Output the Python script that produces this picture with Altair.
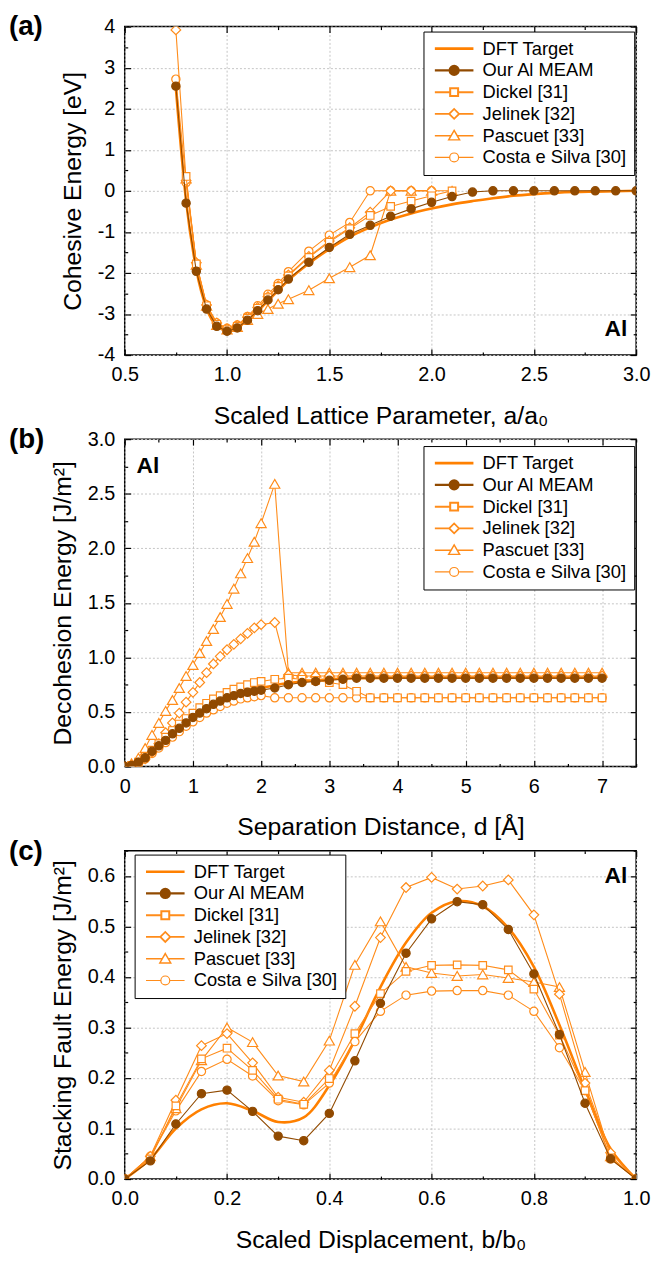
import altair as alt
import pandas as pd

FONT = "Liberation Sans, Arial, Helvetica, sans-serif"
DFT_C = "#FF8000"
ORANGE = "#FF8C1A"
BROWN = "#914A00"

NAMES = ["DFT Target", "Our Al MEAM", "Dickel [31]", "Jelinek [32]", "Pascuet [33]", "Costa e Silva [30]"]

# ---------------- Panel (a): cohesive energy ----------------
a_x = [0.75, 0.8, 0.85, 0.9, 0.95, 1.0, 1.05, 1.1, 1.15, 1.2, 1.25, 1.3, 1.4, 1.5, 1.6, 1.7, 1.8, 1.9, 2.0,
       2.1, 2.2, 2.3, 2.4, 2.5, 2.6, 2.7, 2.8, 2.9, 3.0]
a_dft = [2.50, -0.25, -1.92, -2.86, -3.29, -3.40, -3.33, -3.15, -2.93, -2.68, -2.43, -2.18, -1.77, -1.42, -1.12,
         -0.89, -0.70, -0.55, -0.43, -0.33, -0.25, -0.18, -0.12, -0.08, -0.05, -0.03, -0.02, -0.01, 0.00]
a_meam = [2.55, -0.30, -1.96, -2.88, -3.30, -3.42, -3.34, -3.15, -2.92, -2.66, -2.41, -2.15, -1.74, -1.38, -1.06,
          -0.84, -0.62, -0.44, -0.28, -0.14, -0.03, 0.0, 0.0, 0.0, 0.0, 0.0, 0.0, 0.0, 0.0]
a_dickel_x = [0.8, 0.85, 0.9, 0.95, 1.0, 1.05, 1.1, 1.15, 1.2, 1.25, 1.3, 1.4, 1.5, 1.6, 1.7, 1.8, 1.9, 2.0, 2.1]
a_dickel = [0.35, -1.78, -2.80, -3.25, -3.38, -3.30, -3.10, -2.86, -2.60, -2.33, -2.07, -1.62, -1.25, -0.92, -0.60,
            -0.38, -0.25, -0.12, 0.0]
a_jelinek_x = [0.75, 0.8, 0.85, 0.9, 0.95, 1.0, 1.05, 1.1, 1.15, 1.2, 1.25, 1.3, 1.4, 1.5, 1.6, 1.7, 1.8, 1.9, 2.0]
a_jelinek = [3.92, 0.25, -1.75, -2.78, -3.22, -3.36, -3.28, -3.08, -2.84, -2.58, -2.31, -2.05, -1.60, -1.22, -0.90,
             -0.52, 0.0, 0.0, 0.0]
a_pascuet_x = [0.8, 0.85, 0.9, 0.95, 1.0, 1.05, 1.1, 1.15, 1.2, 1.25, 1.3, 1.4, 1.5, 1.6, 1.7, 1.8, 1.9, 2.0, 2.1]
a_pascuet = [0.30, -1.80, -2.80, -3.27, -3.38, -3.32, -3.15, -3.00, -2.88, -2.75, -2.64, -2.42, -2.13, -1.86, -1.57,
             0.0, 0.0, 0.0, 0.0]
a_costa_x = [0.75, 0.8, 0.85, 0.9, 0.95, 1.0, 1.05, 1.1, 1.15, 1.2, 1.25, 1.3, 1.4, 1.5, 1.6, 1.7, 1.8, 1.9, 2.0]
a_costa = [2.72, 0.20, -1.78, -2.78, -3.22, -3.35, -3.27, -3.06, -2.80, -2.52, -2.26, -1.97, -1.47, -1.08, -0.77,
           0.0, 0.0, 0.0, 0.0]

# ---------------- Panel (b): decohesion energy ----------------
b_x = [0.0, 0.1, 0.2, 0.3, 0.4, 0.5, 0.6, 0.7, 0.8, 0.9, 1.0, 1.1, 1.2, 1.3, 1.4, 1.5, 1.6, 1.7, 1.8, 1.9, 2.0,
       2.2, 2.4, 2.6, 2.8, 3.0, 3.2, 3.4, 3.6, 3.8, 4.0, 4.2, 4.4, 4.6, 4.8, 5.0, 5.2, 5.4, 5.6, 5.8, 6.0,
       6.2, 6.4, 6.6, 6.8, 7.0]
b_dft_x = [0.0, 0.2, 0.4, 0.6, 0.8, 1.0, 1.2, 1.4, 1.6, 1.8, 2.0, 2.2, 2.4, 2.6, 2.8, 3.0, 3.5, 4.0, 5.0, 6.0, 7.0]
b_dft = [0.0, 0.04, 0.13, 0.24, 0.34, 0.43, 0.51, 0.58, 0.64, 0.68, 0.72, 0.745, 0.765, 0.78, 0.79, 0.80, 0.81,
         0.815, 0.815, 0.815, 0.815]
b_meam = [0.0, 0.01, 0.04, 0.08, 0.14, 0.19, 0.24, 0.30, 0.35, 0.40, 0.45, 0.49, 0.53, 0.57, 0.60, 0.63, 0.65, 0.67,
          0.68, 0.69, 0.70,
          0.72, 0.75, 0.77, 0.78, 0.79, 0.80, 0.81, 0.81, 0.81, 0.81, 0.81, 0.81, 0.81, 0.81, 0.81, 0.81, 0.81,
          0.81, 0.81, 0.81, 0.81, 0.81, 0.81, 0.81, 0.81]
b_dickel = [0.0, 0.01, 0.04, 0.09, 0.15, 0.21, 0.27, 0.33, 0.39, 0.44, 0.49, 0.54, 0.58, 0.62, 0.65, 0.68, 0.71,
            0.73, 0.75, 0.77, 0.78,
            0.80, 0.81, 0.80, 0.79, 0.77, 0.75, 0.69, 0.63, 0.63, 0.63, 0.63, 0.63, 0.63, 0.63, 0.63, 0.63, 0.63,
            0.63, 0.63, 0.63, 0.63, 0.63, 0.63, 0.63, 0.63]
b_jelinek = [0.0, 0.01, 0.03, 0.07, 0.13, 0.21, 0.31, 0.40, 0.49, 0.59, 0.68, 0.77, 0.86, 0.94, 1.01, 1.07, 1.12,
             1.17, 1.22, 1.27, 1.30,
             1.32, 0.84, 0.83, 0.83, 0.83, 0.83, 0.83, 0.83, 0.83, 0.83, 0.83, 0.83, 0.83, 0.83, 0.83, 0.83, 0.83,
             0.83, 0.83, 0.83, 0.83, 0.83, 0.83, 0.83, 0.83]
b_pascuet = [0.0, 0.03, 0.08, 0.17, 0.29, 0.40, 0.51, 0.61, 0.72, 0.83, 0.93, 1.04, 1.15, 1.26, 1.37, 1.49, 1.63,
             1.77, 1.91, 2.06, 2.23,
             2.59, 0.86, 0.86, 0.86, 0.86, 0.86, 0.86, 0.86, 0.86, 0.86, 0.86, 0.86, 0.86, 0.86, 0.86, 0.86, 0.86,
             0.86, 0.86, 0.86, 0.86, 0.86, 0.86, 0.86, 0.86]
b_costa = [0.0, 0.01, 0.03, 0.07, 0.12, 0.17, 0.22, 0.27, 0.32, 0.37, 0.41, 0.45, 0.49, 0.52, 0.55, 0.58, 0.60,
           0.62, 0.63, 0.64, 0.65,
           0.63, 0.63, 0.63, 0.63, 0.63, 0.63, 0.63, 0.63, 0.63, 0.63, 0.63, 0.63, 0.63, 0.63, 0.63, 0.63, 0.63,
           0.63, 0.63, 0.63, 0.63, 0.63, 0.63, 0.63, 0.63]

# ---------------- Panel (c): stacking fault energy ----------------
c_x = [0.0, 0.05, 0.1, 0.15, 0.2, 0.25, 0.3, 0.35, 0.4, 0.45, 0.5, 0.55, 0.6, 0.65, 0.7, 0.75, 0.8, 0.85, 0.9,
       0.95, 1.0]
c_dft = [0.0, 0.040, 0.100, 0.138, 0.150, 0.135, 0.113, 0.122, 0.185, 0.275, 0.380, 0.468, 0.527, 0.550, 0.540,
         0.497, 0.420, 0.305, 0.178, 0.060, 0.0]
c_meam = [0.0, 0.036, 0.109, 0.169, 0.176, 0.134, 0.085, 0.076, 0.130, 0.234, 0.348, 0.447, 0.515, 0.549, 0.543,
          0.494, 0.406, 0.286, 0.150, 0.040, 0.0]
c_dickel = [0.0, 0.040, 0.145, 0.238, 0.259, 0.215, 0.158, 0.148, 0.199, 0.288, 0.367, 0.411, 0.423, 0.424, 0.423,
            0.414, 0.376, 0.285, 0.175, 0.042, 0.0]
c_jelinek = [0.0, 0.045, 0.156, 0.264, 0.288, 0.230, 0.162, 0.152, 0.215, 0.342, 0.478, 0.577, 0.597, 0.574, 0.580,
             0.592, 0.523, 0.366, 0.190, 0.052, 0.0]
c_pascuet = [0.0, 0.045, 0.140, 0.235, 0.300, 0.271, 0.205, 0.193, 0.274, 0.424, 0.510, 0.420, 0.408, 0.402, 0.405,
             0.398, 0.390, 0.380, 0.212, 0.045, 0.0]
c_costa = [0.0, 0.045, 0.135, 0.213, 0.237, 0.204, 0.155, 0.147, 0.190, 0.272, 0.332, 0.364, 0.372, 0.373, 0.373,
           0.364, 0.332, 0.260, 0.175, 0.040, 0.0]

# tick values (major + minor)
a_xticks = [0.5, 0.75, 1.0, 1.25, 1.5, 1.75, 2.0, 2.25, 2.5, 2.75, 3.0]
a_yticks = [-4, -3.5, -3, -2.5, -2, -1.5, -1, -0.5, 0, 0.5, 1, 1.5, 2, 2.5, 3, 3.5, 4]
b_xticks = [0, 0.5, 1, 1.5, 2, 2.5, 3, 3.5, 4, 4.5, 5, 5.5, 6, 6.5, 7, 7.5]
b_yticks = [0.0, 0.25, 0.5, 0.75, 1.0, 1.25, 1.5, 1.75, 2.0, 2.25, 2.5, 2.75, 3.0]
c_xticks = [0.0, 0.1, 0.2, 0.3, 0.4, 0.5, 0.6, 0.7, 0.8, 0.9, 1.0]
c_yticks = [0.0, 0.05, 0.1, 0.15, 0.2, 0.25, 0.3, 0.35, 0.4, 0.45, 0.5, 0.55, 0.6, 0.65]


def long_df(pairs):
    rows = []
    for name, xs, ys in pairs:
        for x, y in zip(xs, ys):
            rows.append({"series": name, "x": x, "y": y})
    return pd.DataFrame(rows)


df_a = long_df([
    (NAMES[0], a_x, a_dft), (NAMES[1], a_x, a_meam), (NAMES[2], a_dickel_x, a_dickel),
    (NAMES[3], a_jelinek_x, a_jelinek), (NAMES[4], a_pascuet_x, a_pascuet), (NAMES[5], a_costa_x, a_costa)])
df_b = long_df([
    (NAMES[0], b_dft_x, b_dft), (NAMES[1], b_x, b_meam), (NAMES[2], b_x, b_dickel),
    (NAMES[3], b_x, b_jelinek), (NAMES[4], b_x, b_pascuet), (NAMES[5], b_x, b_costa)])
df_c = long_df([
    (NAMES[0], c_x, c_dft), (NAMES[1], c_x, c_meam), (NAMES[2], c_x, c_dickel),
    (NAMES[3], c_x, c_jelinek), (NAMES[4], c_x, c_pascuet), (NAMES[5], c_x, c_costa)])

MARK = {
    NAMES[1]: ("circle", 70, BROWN, BROWN),
    NAMES[2]: ("square", 58, "white", ORANGE),
    NAMES[3]: ("diamond", 95, "white", ORANGE),
    NAMES[4]: ("triangle-up", 105, "white", ORANGE),
    NAMES[5]: ("circle", 70, "white", ORANGE),
}

P_LINE = "M-3.9,0L3.9,0"
P_CIRC = "M-3.9,0L-0.9,0M0.9,0L3.9,0M-0.9,0A0.9,0.9 0 1,0 0.9,0A0.9,0.9 0 1,0 -0.9,0Z"
P_SQ = "M-3.9,0L-0.8,0M0.8,0L3.9,0M-0.8,-0.8L0.8,-0.8L0.8,0.8L-0.8,0.8Z"
P_DIA = "M-3.9,0L-1.0,0M1.0,0L3.9,0M-1.0,0L0,-1.0L1.0,0L0,1.0Z"
P_TRI = "M-3.9,0L-0.6,0M0.6,0L3.9,0M0,-1.05L1.1,0.85L-1.1,0.85Z"
LEG_SHAPES = [P_LINE, P_CIRC, P_SQ, P_DIA, P_TRI, P_CIRC]
LEG_STROKES = [DFT_C, BROWN, ORANGE, ORANGE, ORANGE, ORANGE]
LEG_FILLS = ["white", BROWN, "white", "white", "white", "white"]
LEG_WIDTHS = [2.6, 1.2, 1.1, 1.1, 1.1, 1.1]


def major_test(step):
    return "abs(datum.value / %s - round(datum.value / %s)) < 0.000001" % (step, step)


def make_axis(values, step, title, fmt, orient, mirror=False):
    test = major_test(step)
    tick_expr = "(%s) ? -6 : -3" % test
    kw = dict(values=values, orient=orient, domain=False, ticks=True, tickColor="black", tickWidth=1.2,
              tickSize={"expr": tick_expr}, labelFlush=False, labelOverlap=False)
    if mirror:
        kw.update(labels=False, grid=False, title=None)
    else:
        if fmt == "int":
            lab = "(%s) ? (datum.value + '') : ''" % test
        else:
            lab = "(%s) ? format(datum.value, '%s') : ''" % (test, fmt)
        kw.update(title=title, grid=True, gridColor="#c4c4c4", gridDash=[2, 2], gridWidth=1,
                  gridOpacity={"condition": {"test": test, "value": 1}, "value": 0},
                  labelExpr=lab, labelPadding=16, labelFont=FONT, labelFontSize=20, labelColor="black",
                  titleFont=FONT, titleFontSize=25, titleFontWeight="normal", titleColor="black",
                  titlePadding=16 if orient == "bottom" else 12)
    return alt.Axis(**kw)


def panel(df, xdom, ydom, xt, xstep, xtitle, xfmt, yt, ystep, ytitle, yfmt, legx, legy, tag, tag_y,
          al_x, al_y, al_align, w, h, dft_interp):
    xs = alt.Scale(domain=xdom, nice=False, zero=False)
    ys = alt.Scale(domain=ydom, nice=False, zero=False)
    X_main = alt.X("x:Q", scale=xs, axis=make_axis(xt, xstep, xtitle, xfmt, "bottom"))
    Y_main = alt.Y("y:Q", scale=ys, axis=make_axis(yt, ystep, ytitle, yfmt, "left"))
    X_mir = alt.X("x:Q", scale=xs, axis=make_axis(xt, xstep, None, xfmt, "top", mirror=True))
    Y_mir = alt.Y("y:Q", scale=ys, axis=make_axis(yt, ystep, None, yfmt, "right", mirror=True))
    X_no = alt.X("x:Q", scale=xs, axis=None)
    Y_no = alt.Y("y:Q", scale=ys, axis=None)

    layers = []
    base = alt.Chart(df)
    layers.append(base.transform_filter(alt.datum.series == NAMES[0]).mark_line(
        color=DFT_C, strokeWidth=2.6, interpolate=dft_interp, clip=True).encode(x=X_main, y=Y_main))
    for name in [NAMES[5], NAMES[4], NAMES[3], NAMES[2], NAMES[1]]:
        shp, sz, fl, st = MARK[name]
        sub = base.transform_filter(alt.datum.series == name)
        layers.append(sub.mark_line(color=st, strokeWidth=1.1, clip=True).encode(x=X_no, y=Y_no))
        layers.append(sub.mark_point(shape=shp, size=sz, filled=True, fill=fl, stroke=st, strokeWidth=1.2,
                                     opacity=1, clip=True).encode(x=X_no, y=Y_no))
    leg = alt.Legend(title=None, orient="none", legendX=legx, legendY=legy, direction="vertical",
                     fillColor="white", strokeColor="black", padding=8, labelFont=FONT, labelFontSize=18.5,
                     labelColor="black", symbolSize=100, symbolOffset=13.75, labelOffset=19.5,
                     rowPadding=3.0, labelLimit=400)
    layers.append(base.transform_filter("false").mark_point(size=100, opacity=1).encode(
        x=X_mir, y=Y_mir,
        stroke=alt.Stroke("series:N", scale=alt.Scale(domain=NAMES, range=LEG_STROKES), legend=leg),
        fill=alt.Fill("series:N", scale=alt.Scale(domain=NAMES, range=LEG_FILLS), legend=leg),
        shape=alt.Shape("series:N", scale=alt.Scale(domain=NAMES, range=LEG_SHAPES), legend=leg),
        strokeWidth=alt.StrokeWidth("series:N", scale=alt.Scale(domain=NAMES, range=LEG_WIDTHS), legend=leg),
    ))
    layers.append(alt.Chart(pd.DataFrame({"t": [tag]})).mark_text(
        align="left", baseline="top", font=FONT, fontSize=28, fontWeight="bold", color="black").encode(
        x=alt.value(-117), y=alt.value(tag_y), text="t:N"))
    layers.append(alt.Chart(pd.DataFrame({"t": ["Al"]})).mark_text(
        align=al_align, baseline="middle", font=FONT, fontSize=23, fontWeight="bold", color="black").encode(
        x=alt.value(al_x), y=alt.value(al_y), text="t:N"))
    return alt.layer(*layers).resolve_axis(x="independent", y="independent").properties(width=w, height=h)


pa = panel(df_a, [0.5, 3.0], [-4, 4],
           a_xticks, 0.5, "Scaled Lattice Parameter, a/a\u2080", ".1f",
           a_yticks, 1, "Cohesive Energy [eV]", "int",
           302, 5, "(a)", -13.5, 508, 306, "right", 517, 332, "monotone")
pb = panel(df_b, [0, 7.5], [0, 3],
           b_xticks, 1, "Separation Distance, d [\u00c5]", "d",
           b_yticks, 0.5, "Decohesion Energy [J/m\u00b2]", ".1f",
           302, 7, "(b)", -13, 12, 27, "left", 517, 331, "monotone")
pc = panel(df_c, [0, 1], [0, 0.65],
           c_xticks, 0.2, "Scaled Displacement, b/b\u2080", ".1f",
           c_yticks, 0.1, "Stacking Fault Energy [J/m\u00b2]", ".1f",
           10, 4, "(c)", -13, 508, 26, "right", 517, 332, "catmull-rom")

RES_S = dict(x="independent", y="independent", stroke="independent", fill="independent",
             shape="independent", strokeWidth="independent")
RES_L = dict(stroke="independent", fill="independent", shape="independent", strokeWidth="independent")

chart = alt.vconcat(pa, pb, pc, spacing=85, bounds="flush").resolve_scale(**RES_S).resolve_legend(
    **RES_L).properties(padding={"left": 0, "right": 0, "top": -3, "bottom": 0}).configure_view(
    stroke="black", strokeWidth=1.5)

chart.save("out.html", embed_options={"renderer": "svg", "actions": False})
